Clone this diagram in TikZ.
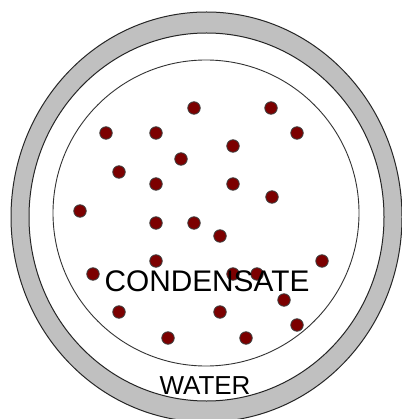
\documentclass[tikz,border=0pt]{standalone}
\usepackage{fontspec}
\setmainfont{Liberation Sans}
\definecolor{ringgray}{RGB}{192,192,192}
\definecolor{dotred}{RGB}{124,0,0}
\begin{document}
\begin{tikzpicture}[x=1pt,y=-1pt,
  dot/.style={circle,fill=dotred,draw=black!75,line width=0.8pt,minimum size=12.5pt,inner sep=0pt},
  ringline/.style={draw=black!85,line width=1pt},
  lbl/.style={anchor=base,inner sep=0pt,text=black}]
\useasboundingbox (0,0) rectangle (401,419);
\fill[white] (0,0) rectangle (401,419);
% outer ring
\fill[ringgray,even odd rule] (206.5,217) ellipse [x radius=195.5pt, y radius=205pt]
  (206.5,217) ellipse [x radius=177.5pt, y radius=184pt];
\draw[ringline] (206.5,217) ellipse [x radius=195.5pt, y radius=205pt];
\draw[ringline] (206.5,217) ellipse [x radius=177.5pt, y radius=184pt];
% inner circle
\draw[draw=black!80,line width=0.9pt] (206,213) ellipse [x radius=153pt, y radius=153pt];
% dots
\foreach \n/\x/\y in {1/194/108,2/271/108,3/106/133,4/156/133,5/297/133,6/233/146,
  7/181/159,8/119/172,9/156/184,10/233/184,11/272/197,12/80/211,13/156/223,
  14/194/223,15/220/236,16/156/261,17/322/261,18/93/274,19/233/274,20/257/274,
  21/284/300,22/119/312,23/220/312,24/297/325,25/168/338,26/246/338}
  \node[dot] (d\n) at (\x,\y) {};
% labels
\node[lbl,font=\fontsize{29.8}{34}\selectfont] (cond) at (207,291.5) {CONDENSATE};
\node[lbl,font=\fontsize{26}{30}\selectfont] (water) at (205,394) {WATER};
\end{tikzpicture}
\end{document}
